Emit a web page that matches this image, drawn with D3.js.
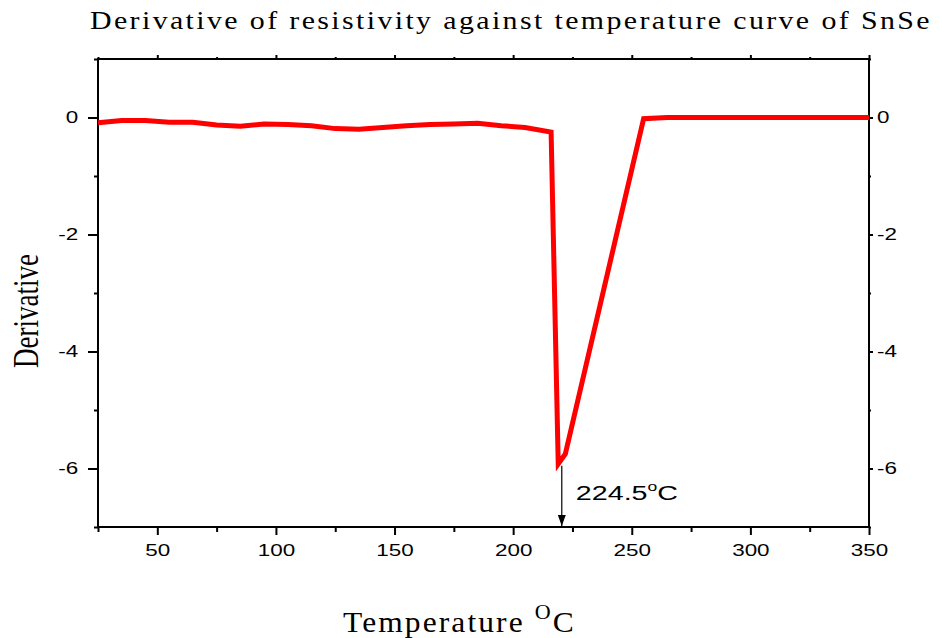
<!DOCTYPE html>
<html>
<head>
<meta charset="utf-8">
<script src="https://cdn.jsdelivr.net/npm/d3@7"></script>
<style>
body { margin: 0; background: #fff; }
svg { display: block; }
</style>
</head>
<body>
<div id="chart"></div>
<script>
// data
const temps = [25, 35, 45, 55, 65, 75, 85, 95, 105, 115, 125, 135, 145, 155, 165, 175, 185, 195, 205,
  216, 219, 222, 255, 265, 275, 285, 295, 305, 315, 325, 335, 345, 350];
const derivs = [-0.09, -0.05, -0.05, -0.08, -0.08, -0.13, -0.15, -0.11, -0.12, -0.14, -0.19, -0.2, -0.17,
  -0.14, -0.12, -0.11, -0.1, -0.14, -0.17,
  -0.25, -5.92, -5.75, -0.02, 0, 0, 0, 0, 0, 0, 0, 0, 0, 0];

const xMajor = [50, 100, 150, 200, 250, 300, 350];
const xMinor = [25, 75, 125, 175, 225, 275, 325];
const yMajor = [0, -2, -4, -6];
const yMinor = [1, -1, -3, -5, -7];

const peakTemp = 220.5, peakVal = -5.92, peakLabel = "224.5";

const width = 942, height = 638;
const margin = { top: 59, right: 73, bottom: 111, left: 98 };
const stretch = 1.32; // the picture is widened a bit

const svg = d3.select("#chart").append("svg")
  .attr("width", width)
  .attr("height", height)
  .attr("viewBox", [0, 0, width, height]);

const x = d3.scaleLinear().domain([25, 350]).range([margin.left, width - margin.right]);
const y = d3.scaleLinear().domain([-7, 1]).range([height - margin.bottom, margin.top]);

const tickFont = "Liberation Sans, Arial, sans-serif";
const plain = d => String(d); // keep the ascii hyphen for negatives

function styleAxis(g) {
  g.select(".domain").remove();
  g.selectAll("line").attr("stroke", "#000").attr("stroke-width", 2);
  g.selectAll("text").attr("font-family", tickFont).attr("font-size", 17).attr("fill", "#000");
}

// bottom
svg.append("g")
  .attr("transform", `translate(0,${y(-7)})`)
  .call(d3.axisBottom(x).tickValues(xMajor).tickSize(8).tickFormat(plain))
  .call(styleAxis)
  .call(g => g.selectAll("text").attr("y", 17).attr("transform", `scale(${stretch},1)`));
svg.append("g")
  .attr("transform", `translate(0,${y(-7)})`)
  .call(d3.axisBottom(x).tickValues(xMinor).tickSize(5).tickFormat(""))
  .call(styleAxis);

// top
svg.append("g")
  .attr("transform", `translate(0,${y(1)})`)
  .call(d3.axisTop(x).tickValues(xMajor).tickSize(4).tickFormat(""))
  .call(styleAxis);
svg.append("g")
  .attr("transform", `translate(0,${y(1)})`)
  .call(d3.axisTop(x).tickValues(xMinor).tickSize(2).tickFormat(""))
  .call(styleAxis);

// left
svg.append("g")
  .attr("transform", `translate(${x(25)},0)`)
  .call(d3.axisLeft(y).tickValues(yMajor).tickSize(10).tickFormat(plain))
  .call(styleAxis)
  .call(g => g.selectAll("text").attr("x", -15).attr("transform", `scale(${stretch},1)`));
svg.append("g")
  .attr("transform", `translate(${x(25)},0)`)
  .call(d3.axisLeft(y).tickValues(yMinor).tickSize(4).tickFormat(""))
  .call(styleAxis);

// right
svg.append("g")
  .attr("transform", `translate(${x(350)},0)`)
  .call(d3.axisRight(y).tickValues(yMajor).tickSize(4).tickFormat(plain))
  .call(styleAxis)
  .call(g => g.selectAll("text").attr("x", 6).attr("transform", `scale(${stretch},1)`));
svg.append("g")
  .attr("transform", `translate(${x(350)},0)`)
  .call(d3.axisRight(y).tickValues(yMinor).tickSize(2).tickFormat(""))
  .call(styleAxis);

// frame
svg.append("rect")
  .attr("x", x(25)).attr("y", y(1))
  .attr("width", x(350) - x(25)).attr("height", y(-7) - y(1))
  .attr("fill", "none").attr("stroke", "#000").attr("stroke-width", 2);

// curve
const line = d3.line().x(d => x(d[0])).y(d => y(d[1]));
svg.append("path")
  .datum(d3.zip(temps, derivs))
  .attr("d", line)
  .attr("fill", "none")
  .attr("stroke", "#ff0000")
  .attr("stroke-width", 5)
  .attr("stroke-linejoin", "miter");

// arrow down to the axis
svg.append("defs").append("marker")
  .attr("id", "head")
  .attr("viewBox", "0 0 8 11")
  .attr("refX", 4).attr("refY", 11)
  .attr("markerWidth", 8).attr("markerHeight", 11)
  .attr("markerUnits", "userSpaceOnUse")
  .attr("orient", 0)
  .append("path").attr("d", "M0,0 L8,0 L4,11 Z").attr("fill", "#000");
svg.append("line")
  .attr("x1", x(peakTemp)).attr("x2", x(peakTemp))
  .attr("y1", y(peakVal) + 2).attr("y2", y(-7) - 1)
  .attr("stroke", "#000").attr("stroke-width", 1.2)
  .attr("marker-end", "url(#head)");

const ann = svg.append("text")
  .attr("transform", `translate(${x(peakTemp) + 14},500) scale(1.4,1)`)
  .attr("font-family", tickFont).attr("font-size", 20.5).attr("fill", "#000");
ann.append("tspan").text(peakLabel);
ann.append("tspan").attr("font-size", 12.5).attr("dy", -9).text("o");
ann.append("tspan").attr("dy", 9).text("C");

// titles
const serif = "Liberation Serif, Times New Roman, serif";
svg.append("text")
  .attr("transform", "translate(90,29) scale(1.15,1)")
  .attr("font-family", serif).attr("font-size", 26)
  .attr("textLength", 730).attr("lengthAdjust", "spacing")
  .text("Derivative of resistivity against temperature curve of SnSe");

const xl = svg.append("text")
  .attr("transform", "translate(343,632) scale(1.05,1)")
  .attr("font-family", serif).attr("font-size", 30)
  .attr("letter-spacing", 2);
xl.append("tspan").text("Temperature ");
xl.append("tspan").attr("font-size", 21).attr("dy", -13).text("O");
xl.append("tspan").attr("dy", 13).text("C");

svg.append("text")
  .attr("transform", `translate(38,311) scale(1.35,1) rotate(-90)`)
  .attr("text-anchor", "middle")
  .attr("font-family", serif).attr("font-size", 27)
  .text("Derivative");
</script>
</body>
</html>
